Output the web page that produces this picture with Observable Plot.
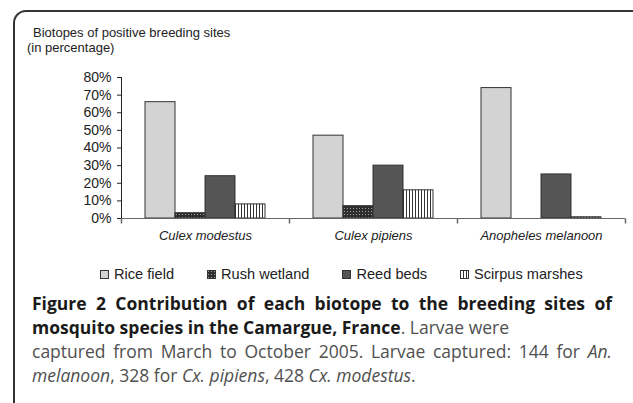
<!DOCTYPE html>
<html><head><meta charset="utf-8">
<script src="https://cdn.jsdelivr.net/npm/d3@7"></script>
<script src="https://cdn.jsdelivr.net/npm/@observablehq/plot@0.6"></script>
<style>
html,body{margin:0;padding:0;background:#fff;width:633px;height:403px;overflow:hidden;}
#frame{position:absolute;left:13px;top:10px;width:700px;height:500px;border-top:2px solid #333;border-left:2px solid #333;border-top-left-radius:13px;box-sizing:border-box;}
.t{position:absolute;font:13px "Liberation Sans",Arial,sans-serif;color:#222;line-height:15px;white-space:nowrap;}
#chart{position:absolute;left:0;top:0;}
#legend{position:absolute;left:100px;top:266px;font:14.6px "Liberation Sans",Arial,sans-serif;color:#222;line-height:17px;white-space:nowrap;display:flex;align-items:center;}
#legend .item{display:flex;align-items:center;margin-right:33px;}
#legend svg{margin-right:5px;}
#caption{position:absolute;left:32px;top:291px;width:580px;font:17.5px "Open Sans",sans-serif;line-height:24px;color:#505050;white-space:nowrap;}
#caption .j{text-align:justify;text-align-last:justify;}
#caption b{color:#1a1a1a;font-weight:700;}
</style></head>
<body>
<svg width="0" height="0" style="position:absolute">
  <defs>
    <pattern id="rush" width="3" height="3" patternUnits="userSpaceOnUse">
      <rect width="3" height="3" fill="#2e2e2e"/>
      <rect x="1" y="1" width="1" height="1" fill="#a0a0a0"/>
    </pattern>
    <pattern id="scirpus" width="3" height="3" patternUnits="userSpaceOnUse">
      <rect width="3" height="3" fill="#fff"/>
      <rect x="0" y="0" width="1" height="3" fill="#333"/>
    </pattern>
  </defs>
</svg>
<div id="frame"></div>
<div class="t" style="left:33px;top:25px">Biotopes of positive breeding sites</div>
<div class="t" style="left:27px;top:40px">(in percentage)</div>
<div id="chart"></div>
<div id="legend"></div>
<div id="caption">
<div class="j"><b>Figure 2 Contribution of each biotope to the breeding sites of</b></div>
<div><b>mosquito species in the Camargue, France</b>. Larvae were</div>
<div class="j">captured from March to October 2005. Larvae captured: 144 for <i>An.</i></div>
<div><i>melanoon</i>, 328 for <i>Cx. pipiens</i>, 428 <i>Cx. modestus</i>.</div>
</div>
<script>
const species = ["Culex modestus", "Culex pipiens", "Anopheles melanoon"];
const biotopes = ["Rice field", "Rush wetland", "Reed beds", "Scirpus marshes"];
const riceField = [66, 47, 74];
const rushWetland = [3, 7, 0];
const reedBeds = [24, 30, 25];
const scirpusMarshes = [8, 16, 0.7];
const yTicks = [0, 10, 20, 30, 40, 50, 60, 70, 80];
const fills = ["#d3d3d3", "url(#rush)", "#555555", "url(#scirpus)"];

const series = [riceField, rushWetland, reedBeds, scirpusMarshes];
const data = species.flatMap((s, i) => biotopes.map((b, j) => ({species: s, biotope: b, value: series[j][i]})));

const tickSymbol = {draw(ctx) { ctx.moveTo(0, 0); ctx.lineTo(0, 5); }};

const chart = Plot.plot({
  width: 633, height: 250,
  marginLeft: 120, marginRight: 8, marginTop: 77, marginBottom: 32,
  style: {fontFamily: '"Liberation Sans", Arial, sans-serif', fontSize: "14px", background: "transparent", overflow: "visible", color: "#222"},
  fx: {domain: species, padding: 0, label: null},
  x: {domain: biotopes, paddingInner: 0, paddingOuter: 0.76, axis: null},
  y: {domain: [0, 80], ticks: yTicks, tickFormat: d => d + "%", tickSize: 4, tickPadding: 6, line: true, label: null},
  color: {domain: biotopes, range: fills},
  marks: [
    Plot.axisFx({anchor: "bottom", tickSize: 0, tickPadding: 12, fontStyle: "italic", fontSize: 13, label: null}),
    Plot.barY(data, {fx: "species", x: "biotope", y: "value", fill: "biotope", stroke: "#333", strokeWidth: 1}),
    Plot.ruleY([0], {stroke: "#666"}),
    Plot.dot(species, {fx: d => d, frameAnchor: "bottom-left", symbol: tickSymbol, fill: "none", stroke: "#666", r: 3}),
    Plot.dot(species.slice(-1), {fx: d => d, frameAnchor: "bottom-right", symbol: tickSymbol, fill: "none", stroke: "#666", r: 3})
  ]
});
document.getElementById("chart").appendChild(chart);

const legend = document.getElementById("legend");
biotopes.forEach((b, i) => {
  const item = document.createElement("div");
  item.className = "item";
  item.innerHTML = `<svg width="9" height="9"><rect x="0.5" y="0.5" width="8" height="8" fill="${fills[i]}" stroke="#333"/></svg><span>${b}</span>`;
  legend.appendChild(item);
});
</script>
</body></html>
